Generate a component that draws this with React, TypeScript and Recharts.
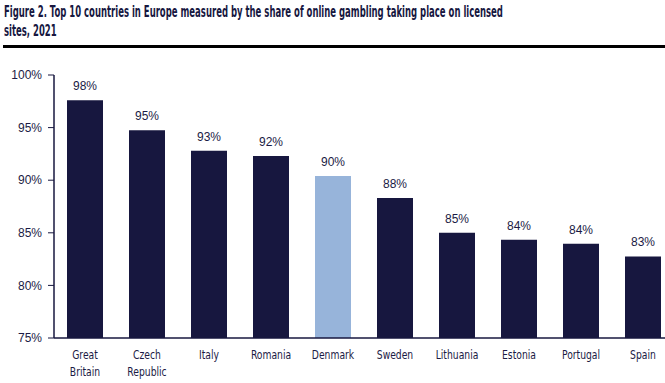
import { BarChart, Bar, XAxis, YAxis, Cell, LabelList } from "recharts";

// Share of online gambling on licensed sites, 2021
const countries = ["Great Britain", "Czech Republic", "Italy", "Romania", "Denmark", "Sweden", "Lithuania", "Estonia", "Portugal", "Spain"];
const shares = [97.6, 94.75, 92.8, 92.3, 90.4, 88.3, 85.0, 84.35, 83.95, 82.75];
const shareLabels = ["98%", "95%", "93%", "92%", "90%", "88%", "85%", "84%", "84%", "83%"];
const highlight = "Denmark";
const yTicks = [75, 80, 85, 90, 95, 100];
const titleLines = [
  "Figure 2. Top 10 countries in Europe measured by the share of online gambling taking place on licensed",
  "sites, 2021",
];

const NAVY = "#17173f";
const LIGHT = "#97b4da";
const TEXT = "#1b1b45";
const CONDENSED = "'DejaVu Sans Condensed', 'Liberation Sans Narrow', sans-serif";

const data = countries.map((c, i) => ({ country: c, share: shares[i], label: shareLabels[i] }));

function CountryTick(props: any) {
  const { x, y, payload } = props;
  const words = String(payload.value).split(" ");
  return (
    <g transform={`translate(${x},${y}) scale(0.82,1)`}>
      {words.map((w, i) => (
        <text key={i} x={0} y={13 + i * 17} textAnchor="middle" fill={TEXT}
          fontSize={12.5} fontFamily={CONDENSED}>
          {w}
        </text>
      ))}
    </g>
  );
}

export default function App() {
  return (
    <div style={{ position: "absolute", left: 0, top: 0, width: 665, height: 383, overflow: "hidden", background: "#fff" }}>
      {titleLines.map((t, i) => (
        <div key={i} style={{
          position: "absolute", left: 4, top: 3 + i * 19, whiteSpace: "nowrap",
          transform: "scaleX(0.59)", transformOrigin: "left top",
          fontFamily: CONDENSED, fontWeight: 700, fontSize: 16, lineHeight: "18px", color: NAVY
        }}>
          {t}
        </div>
      ))}
      <div style={{ position: "absolute", left: 3, top: 45, width: 662, height: 3, background: "#000" }} />
      <div style={{ position: "absolute", left: 0, top: 60 }}>
        <BarChart width={675} height={323} data={data} margin={{ top: 15, right: 1, bottom: 5, left: 0 }} barSize={36}>
          <YAxis domain={[75, 100]} ticks={yTicks} width={54} allowDataOverflow
            tickFormatter={(v: number) => `${v}%`} tickSize={6} tickMargin={6}
            axisLine={{ stroke: NAVY, strokeWidth: 1.5 }} tickLine={{ stroke: NAVY }}
            tick={{ fill: TEXT, fontSize: 12, fontFamily: "'Liberation Sans', Arial, sans-serif" }} />
          <XAxis dataKey="country" interval={0} height={40} tickLine={false}
            axisLine={{ stroke: NAVY, strokeWidth: 1.5 }} tick={<CountryTick />} />
          <Bar dataKey="share" isAnimationActive={false}>
            {data.map((d) => (
              <Cell key={d.country} fill={d.country === highlight ? LIGHT : NAVY} />
            ))}
            <LabelList dataKey="label" position="top" offset={10} fill={TEXT}
              style={{ fontSize: 12, fontFamily: "'Liberation Sans', Arial, sans-serif" }} />
          </Bar>
        </BarChart>
      </div>
    </div>
  );
}
